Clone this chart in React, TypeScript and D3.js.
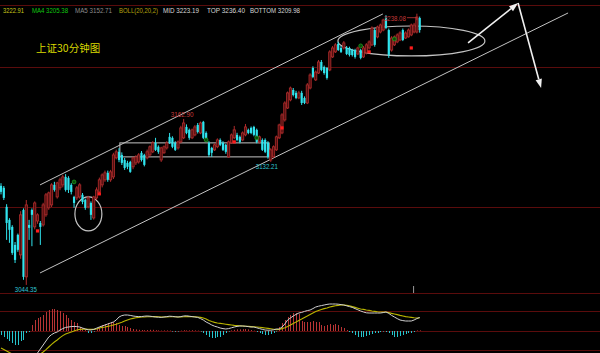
import React, { useEffect } from "react"
import { scaleLinear, line } from "d3"

// 30 min bars: open, high, low, close
const candles: [number, number, number, number][] = [
  [3115.1, 3117, 3109, 3110.8], [3113.7, 3115, 3105, 3106.5], [3100.1, 3102, 3076.5, 3088.6],
  [3090.8, 3092, 3074.4, 3083.7], [3085.8, 3087, 3065.8, 3067.2], [3072.9, 3075, 3060, 3062.2],
  [3080.1, 3081, 3068, 3069.4], [3065.8, 3097, 3063, 3094.4], [3097.9, 3099, 3048, 3050.1],
  [3050.1, 3105, 3044.35, 3101.5], [3087.2, 3090.8, 3076.5, 3085.1], [3097.9, 3099, 3072, 3094.4],
  [3085.8, 3104, 3084, 3102.9], [3090, 3095.5, 3088, 3094.4], [3088.6, 3090, 3072.9, 3085.8],
  [3087.2, 3103, 3086, 3101.5], [3094.4, 3110, 3093, 3108.7], [3099.4, 3111, 3098, 3110.1],
  [3101.5, 3117, 3100, 3115.8], [3115.8, 3118, 3111, 3112.2], [3107.2, 3118, 3106, 3117.2],
  [3113.7, 3121, 3112, 3119.4], [3115.8, 3123, 3114, 3121.5], [3121.5, 3123.5, 3111, 3112.2],
  [3120.8, 3122, 3110, 3112.2], [3115.8, 3117, 3109, 3110.8], [3107.2, 3108, 3099.4, 3102.9],
  [3106.5, 3115, 3105, 3113.7], [3107.2, 3117, 3106, 3115.8], [3108.7, 3110, 3102, 3103.6],
  [3105.1, 3106, 3098, 3099.4], [3100.1, 3108, 3099, 3106.5], [3102.9, 3104, 3090.8, 3094.4],
  [3092.2, 3108, 3091, 3107.2], [3106.5, 3114, 3105, 3112.2], [3110.8, 3121, 3109.5, 3119.4],
  [3115.8, 3124, 3114, 3122.9], [3119.4, 3126, 3118, 3124.4], [3124.4, 3126, 3118, 3119.4],
  [3119.4, 3126.5, 3118, 3125.1], [3121.5, 3138.7, 3120, 3137.2], [3135.1, 3141, 3134, 3139.4],
  [3139.4, 3142, 3132, 3133.6], [3137.2, 3139, 3130, 3131.5], [3133.6, 3135, 3126.5, 3127.9],
  [3131.5, 3133, 3127, 3128.7], [3132.2, 3133, 3124.4, 3125.1], [3128.7, 3136, 3127, 3135.1],
  [3131.5, 3137, 3130, 3135.8], [3132.2, 3138.5, 3131, 3137.2], [3138.7, 3140, 3132.5, 3133.6],
  [3137.2, 3138, 3129, 3130.1], [3135.1, 3141, 3134, 3139.4], [3137.2, 3144, 3136, 3143.0],
  [3139.4, 3147, 3138.5, 3145.8], [3145.8, 3149.4, 3140, 3140.8], [3143.0, 3144, 3138, 3139.4],
  [3133.6, 3143, 3132.2, 3142.2], [3138.7, 3144, 3138, 3143.0], [3142.2, 3147, 3141, 3145.8],
  [3150.1, 3152.9, 3145, 3145.8], [3149.4, 3150.5, 3142, 3143.0], [3145.8, 3147, 3140, 3140.8],
  [3142.2, 3147.5, 3141, 3146.5], [3146.5, 3158, 3145.5, 3156.5], [3149.4, 3162.9, 3148.5, 3160.0],
  [3157.2, 3159, 3152, 3152.9], [3155.1, 3156, 3148, 3149.4], [3149.4, 3156, 3148.5, 3155.1],
  [3151.5, 3158.5, 3150.5, 3157.2], [3158.6, 3160, 3152.5, 3153.6], [3152.9, 3161, 3152, 3160.0],
  [3160.8, 3161.5, 3148.5, 3149.4], [3152.9, 3154, 3147, 3147.9], [3145.8, 3147, 3135.8, 3137.2],
  [3142.2, 3143, 3135.8, 3138.7], [3140.8, 3145.5, 3140, 3144.4], [3143.0, 3149, 3142, 3147.9],
  [3147.9, 3149, 3143.5, 3144.4], [3145.8, 3147, 3140, 3140.8], [3144.4, 3145, 3138, 3139.4],
  [3135.8, 3147.5, 3135, 3146.5], [3145.8, 3152.5, 3145, 3151.5], [3149.4, 3157.9, 3148.5, 3155.1],
  [3151.5, 3153, 3147, 3147.9], [3150.1, 3151, 3145.5, 3146.5], [3147.9, 3154, 3147, 3152.9],
  [3151.5, 3159.3, 3150.5, 3157.2], [3155.1, 3156, 3152, 3152.9], [3156.5, 3157.5, 3152, 3152.9],
  [3157.2, 3158, 3150.5, 3151.5], [3155.1, 3156, 3145.5, 3146.5], [3146.5, 3151, 3145.5, 3150.1],
  [3147.9, 3149, 3140, 3140.8], [3147.9, 3149, 3138.5, 3139.4], [3145.8, 3147, 3134.5, 3135.8],
  [3133.6, 3142, 3132.21, 3140.8], [3135.8, 3144, 3135, 3143.0], [3140.8, 3151, 3140, 3150.1],
  [3149.4, 3159.5, 3148.5, 3158.6], [3152.9, 3167, 3152, 3165.8], [3162.2, 3175.5, 3161, 3174.3],
  [3170.7, 3182.5, 3170, 3181.5], [3176.5, 3186, 3175.5, 3185.0], [3183.6, 3185, 3179, 3180.0],
  [3181.5, 3183, 3177, 3177.9], [3177.9, 3183, 3177, 3181.5], [3181.5, 3183, 3172.9, 3174.3],
  [3177.9, 3179, 3173.5, 3174.3], [3174.3, 3188.5, 3173.5, 3187.2], [3185.0, 3195.5, 3184, 3194.3],
  [3199.3, 3200.5, 3192, 3192.9], [3190.8, 3197.5, 3190, 3196.4], [3195.7, 3205, 3195, 3203.6],
  [3203.6, 3205, 3197, 3197.9], [3200, 3201, 3194.5, 3195.7], [3199.3, 3200, 3191, 3192.2],
  [3197.9, 3212, 3197, 3210.8], [3207.2, 3215, 3206.5, 3213.6], [3210.8, 3217, 3210, 3215.8],
  [3216.5, 3218, 3211.5, 3212.1], [3213.6, 3215, 3210, 3210.8], [3213.6, 3218.5, 3212.5, 3217.2],
  [3213.6, 3215, 3208.5, 3209.3], [3213.6, 3214.5, 3207.5, 3208.6], [3212.1, 3213, 3207.5, 3208.6],
  [3212.1, 3213, 3206, 3207.2], [3209.3, 3214.5, 3208.5, 3213.6], [3212.1, 3213, 3205.5, 3206.5],
  [3207.2, 3215, 3206.5, 3213.6], [3210.1, 3217, 3209, 3215.8], [3213.6, 3219, 3212.5, 3217.9],
  [3215.8, 3229, 3215, 3227.9], [3226.4, 3227.5, 3214.5, 3215.8], [3221.5, 3229.5, 3220.5, 3228.6],
  [3225, 3231, 3224, 3230], [3226.4, 3234.5, 3225.5, 3233.6], [3235.0, 3237, 3227, 3227.9],
  [3226.4, 3227.5, 3206.5, 3208.6], [3212.1, 3222, 3211, 3220.7], [3215.8, 3222.5, 3215, 3221.5],
  [3217.9, 3224, 3217, 3222.9], [3219.3, 3225.5, 3218.5, 3224.3], [3226.4, 3227.5, 3218.5, 3219.3],
  [3220.7, 3225.5, 3220, 3224.3], [3221.5, 3227.5, 3221, 3226.4], [3222.9, 3231, 3222, 3230.0],
  [3225, 3231.5, 3224, 3230.0], [3225, 3238.08, 3224, 3235.7], [3235.0, 3236, 3224.5, 3226.4],
]

// MACD histogram, DIF, DEA per bar
const macdHist = [
  -2, -3, -4, -5, -6, -7, -7, -5, -4.5, -1, -0.5,
  3, 5.5, 6.5, 7, 8, 9.5, 10.5, 11, 11, 10.5, 10, 9, 8, 6.5, 5.5, 4.5, 4, 2, 1.5, 0.5,
  -1, -1, -0.3, 1, 2, 3, 3.5, 4, 4.5, 4.5, 4, 3, 2.5, 2.5, 2, 1.5, 1,
  0.8, 0.6, 0.5, 0.4, 0.5, 0.6, 0.6, 0.4, 0.3, 0.2, 0.3, 0.3, 0.2, -0.3, -0.4, -0.3, 0.2, 0.4, 0.3, 0.3, 0.4, 0.3, 0.2,
  -0.3, -1, -2, -3, -3.5, -3.5, -3, -3, -2, -1, -0.3,
  0.3, 0.6, 0.8, 0.8, 0.9, 1, 0.8, 0.5, 0.2,
  -0.5, -1, -1.5, -2, -2, -1.5, -1, -0.3,
  2, 4, 5.5, 7, 8, 9, 9, 8.5,
  5, 4.5, 4.5, 4.5, 5, 4.5, 4.5, 3, 2.5, 3, 3.5, 3, 3.5, 3, 2, 1.5, 0.5,
  -0.5, -1, -2, -3, -3, -3, -2.5, -2, -1.5, -1, -1, -0.5, -0.3,
  -0.5, -1, -2, -3, -3, -2.5, -2, -1.5, -1, -1, -0.5, 0.3, 0.3,
]
const macdDif = [
  -14, -15, -16, -16.5, -17, -17.5, -17.5, -17, -16.5, -16,
  -15, -14, -12.5, -11, -9, -7, -5, -3, -1.8, -1,
  -0.5, 0.5, 1.2, 1.8, 2, 2.2, 2.3, 2.2, 2, 1.5,
  1, 0.6, 0.5, 0.8, 1.4, 2, 2.5, 3, 3.5, 4,
  4.5, 5.5, 7, 7.7, 8, 8, 7.8, 7.5, 7.3, 7.2,
  7.2, 7.4, 7.5, 7.4, 7.2, 7, 6.9, 6.8, 7, 7.2, 7.4, 7.3, 7.1, 7, 7.2, 7.5, 7.6, 7.4, 7.2, 7, 6.8,
  6.2, 5.5, 4.5, 3.8, 3, 2.4, 2, 1.5, 1.2, 1, 1.2, 1.6, 2, 2.3, 2.5, 2.5, 2.4, 2.2, 2, 2,
  1.6, 1.2, 0.8, 0.5, 0.4, 0.4, 0.6, 1,
  1, 2, 3.5, 5.5, 6.5, 7.5, 8.3, 9, 9.3, 9.8, 10.2, 10.5, 11.2, 12, 12.4, 12.7, 13, 13.3, 13.5, 13.5,
  13.5, 13.4, 13.2, 13, 12.6, 12.2, 11.8, 11.2, 10.6, 10, 9.5, 9.1, 9, 9, 9, 9, 9, 9.2, 9.5, 8.8,
  7.8, 7, 6.2, 5.5, 5.2, 5, 5, 5, 5.5, 6.2, 6.8,
]
const macdDea = [
  -8.5, -9.2, -10, -10.8, -11.5, -12, -12.5, -13, -13.2, -13.4,
  -13.5, -13.3, -13, -12.5, -11.5, -10.5, -9.3, -8, -6.7, -5.5,
  -4.5, -3.3, -2.3, -1.5, -1, -0.5, 0, 0.5, 0.8, 0.9,
  1, 0.9, 0.8, 0.8, 1, 1.5, 1.8, 2, 2.3, 2.6,
  3, 3.4, 3.9, 4.4, 5, 5.5, 6, 6.3, 6.6, 6.8,
  7, 7, 7.1, 7.1, 7.2, 7.2, 7.1, 7, 7, 7, 7.1, 7.1, 7.1, 7, 7, 7.1, 7.2, 7.2, 7.2, 7.1, 7,
  6.8, 6.5, 6, 5.3, 4.7, 4.3, 4, 3.8, 3.6, 3.4, 3.2, 3, 2.8, 2.7, 2.6, 2.5, 2.4, 2.3, 2.2, 2.1,
  2, 1.9, 1.7, 1.5, 1.3, 1.1, 0.9, 0.7,
  0.8, 1.2, 1.6, 2.2, 3, 3.8, 4.5, 5.3, 6, 6.8, 7.5, 8.3, 9, 9.7, 10.3, 10.8, 11.2, 11.5, 12, 12.3,
  12.6, 12.8, 13, 13, 12.8, 12.6, 12.2, 11.8, 11.4, 11, 10.8, 10.5, 10.3, 10, 9.8, 9.6, 9.5, 9.5, 9.5, 9.2,
  8.8, 8.5, 8.2, 7.8, 7.5, 7.2, 7, 6.8, 6.6, 6.5, 6.5,
]

// signal dots: [bar index, price]
const redDots: [number, number][] = [[13, 3082.9], [35, 3109.4], [83, 3146.5], [100, 3156.5], [131, 3210.8], [146, 3213.6]]
const greenDots: [number, number][] = [[26, 3117.9], [73, 3147.9], [91, 3149.4], [128, 3215.1], [140, 3220]]

// hand drawn marks, in [bar index, price]
const upperChannel: [number, number][] = [[13.9, 3115.8], [135.9, 3237.9]]
const lowerChannel: [number, number][] = [[13.9, 3052.9], [201.8, 3238.6]]
const boxRange = { i: [42.3, 95.4], p: [3135.8, 3145.8] }
const smallRing = { i: [26.3, 35.9], p: [3082.9, 3107.2] }
const bigRing = { i: [119.9, 172.2], p: [3207.9, 3229.3] }
const upArrow: [number, number][] = [[166.2, 3217.2], [184, 3245.7]]
const downArrow: [number, number][] = [[184, 3245.7], [192.2, 3185]]

const priceGrid = [3100, 3200]
const macdGrid = [19, 10, 0, -9.5]

const headerTexts = ["3222.91", "MA4 3205.38", "MA5 3152.71", "BOLL(20,20,2)", "MID 3223.19", "TOP 3236.40", "BOTTOM 3209.98"]
const headerColors = ["#c8c818", "#10c810", "#8c8c8c", "#b4a40c", "#d8d8d8", "#d8d8d8", "#d8d8d8"]
const headerX = [3, 32, 75, 119, 163, 207, 250]
const headerW = [21, 36, 37, 39, 36, 38, 50]

const title = "上证30分钟图"
const highLabel = { i: 148, text: "3238.08" }
const midHighLabel = { i: 65, text: "3162.90" }
const midLowLabel = { i: 96, text: "3132.21" }
const lowLabel = { i: 9, text: "3044.35" }

const UP = "#b02c2c"
const UP_FILL = "#4e1010"
const DOWN = "#30e4ee"
const GRID = "#5a0c0c"
const DRAW = "#c4c4c4"
const LABEL_W = 22

const App = () => {
  useEffect(() => {
    document.body.style.margin = "0"
    document.body.style.background = "#000"
  }, [])

  const x = scaleLinear().domain([0, candles.length - 1]).range([1, 419.7])
  const y = scaleLinear().domain([3100, 3200]).range([207, 67])
  const my = scaleLinear().domain([-11, 19]).range([353, 293])
  const bodyW = 2.2

  const macdLine = line<number>().x((_, i) => x(i)).y((d) => my(d))

  const arrow = (pts: [number, number][]) => {
    const x1 = x(pts[0][0])
    const y1 = y(pts[0][1])
    const x2 = x(pts[1][0])
    const y2 = y(pts[1][1])
    const a = Math.atan2(y2 - y1, x2 - x1)
    const len = 9
    const half = 3.2
    const bx = x2 - len * Math.cos(a)
    const by = y2 - len * Math.sin(a)
    const head = [
      [x2, y2],
      [bx + half * Math.sin(a), by - half * Math.cos(a)],
      [bx - half * Math.sin(a), by + half * Math.cos(a)],
    ]
    return (
      <g>
        <line x1={x1} y1={y1} x2={bx} y2={by} stroke="#f0f0f0" strokeWidth={1.6} />
        <polygon points={head.map((p) => p.join(",")).join(" ")} fill="#f0f0f0" />
      </g>
    )
  }

  const ring = (r: { i: number[]; p: number[] }) => (
    <ellipse
      cx={(x(r.i[0]) + x(r.i[1])) / 2}
      cy={(y(r.p[0]) + y(r.p[1])) / 2}
      rx={(x(r.i[1]) - x(r.i[0])) / 2}
      ry={Math.abs(y(r.p[0]) - y(r.p[1])) / 2}
      fill="none"
      stroke={DRAW}
      strokeWidth={1.2}
    />
  )

  const hiX = x(highLabel.i)
  const hiY = y(candles[highLabel.i][1])

  return (
    <svg width={600} height={353} style={{ display: "block", background: "#000" }} fontFamily="'Liberation Sans', Arial, sans-serif">
      <rect width={600} height={353} fill="#000" />
      {/* borders and grid */}
      <line x1={0} x2={600} y1={5.5} y2={5.5} stroke={GRID} />
      {priceGrid.map((p) => (
        <line key={p} x1={0} x2={600} y1={Math.round(y(p)) + 0.5} y2={Math.round(y(p)) + 0.5} stroke={GRID} />
      ))}
      {macdGrid.map((v) => (
        <line key={v} x1={0} x2={600} y1={Math.round(my(v)) + 0.5} y2={Math.round(my(v)) + 0.5} stroke={GRID} />
      ))}

      {/* header */}
      {headerTexts.map((t, k) => (
        <text key={t} x={headerX[k]} y={12.5} fontSize={7.2} fill={headerColors[k]} textLength={headerW[k]} lengthAdjust="spacingAndGlyphs">
          {t}
        </text>
      ))}
      <text x={36} y={52} fontSize={10.5} fill="#dada00" fontFamily="'Noto Sans CJK SC', sans-serif">
        {title}
      </text>

      {/* channel + drawings */}
      {[upperChannel, lowerChannel].map((c, k) => (
        <line key={k} x1={x(c[0][0])} y1={y(c[0][1])} x2={x(c[1][0])} y2={y(c[1][1])} stroke={DRAW} strokeWidth={1} />
      ))}
      <rect
        x={x(boxRange.i[0])}
        y={y(boxRange.p[1])}
        width={x(boxRange.i[1]) - x(boxRange.i[0])}
        height={y(boxRange.p[0]) - y(boxRange.p[1])}
        fill="none"
        stroke={DRAW}
        strokeWidth={1}
      />
      {ring(smallRing)}
      {ring(bigRing)}
      {arrow(upArrow)}
      {arrow(downArrow)}

      {/* candles */}
      {candles.map(([o, h, l, c], i) => {
        const cx = x(i)
        const up = c >= o
        const top = y(Math.max(o, c))
        const bh = Math.max(1, y(Math.min(o, c)) - top)
        const col = up ? UP : DOWN
        return (
          <g key={i}>
            <line x1={cx} x2={cx} y1={y(Math.max(h, o, c))} y2={y(Math.min(l, o, c))} stroke={col} strokeWidth={1} />
            <rect
              x={cx - bodyW / 2}
              y={top}
              width={bodyW}
              height={bh}
              fill={up ? UP_FILL : DOWN}
              stroke={up ? UP : "none"}
              strokeWidth={0.8}
            />
          </g>
        )
      })}
      {redDots.map(([i, p], k) => (
        <rect key={k} x={x(i) - 1.6} y={y(p) - 1.6} width={3.2} height={3.2} fill="#ff1c1c" />
      ))}
      {greenDots.map(([i, p], k) => (
        <circle key={k} cx={x(i)} cy={y(p)} r={1.9} fill="#0a4a0a" stroke="#1f9a1f" strokeWidth={0.8} />
      ))}

      {/* price labels */}
      <text x={x(midHighLabel.i) - 13} y={y(candles[midHighLabel.i][1]) - 1.5} fontSize={7.2} fill="#c83a3a" textLength={LABEL_W + 1} lengthAdjust="spacingAndGlyphs">
        {midHighLabel.text}
      </text>
      <text x={x(midLowLabel.i) - 15} y={y(candles[midLowLabel.i][2]) + 7.5} fontSize={7.2} fill="#30c8d8" textLength={LABEL_W} lengthAdjust="spacingAndGlyphs">
        {midLowLabel.text}
      </text>
      <text x={x(lowLabel.i) - 11.5} y={y(candles[lowLabel.i][2]) + 7} fontSize={7.2} fill="#30c8d8" textLength={LABEL_W} lengthAdjust="spacingAndGlyphs">
        {lowLabel.text}
      </text>
      <text x={hiX - 33} y={hiY + 7} fontSize={7.2} fill="#c83a3a" textLength={LABEL_W} lengthAdjust="spacingAndGlyphs">
        {highLabel.text}
      </text>
      <line x1={hiX - 10} x2={hiX} y1={hiY + 4} y2={hiY + 4} stroke="#c83a3a" strokeWidth={0.8} />
      <line x1={hiX} x2={hiX} y1={hiY + 4} y2={hiY + 6.5} stroke="#c83a3a" strokeWidth={0.8} />

      {/* MACD */}
      {macdHist.map((v, i) => (
        <line
          key={i}
          x1={Math.round(x(i)) + 0.5}
          x2={Math.round(x(i)) + 0.5}
          y1={my(0)}
          y2={my(v)}
          stroke={v >= 0 ? "#b83434" : "#26c4cc"}
          strokeWidth={1}
        />
      ))}
      <path d={macdLine(macdDea) || ""} fill="none" stroke="#b8b400" strokeWidth={1.1} />
      <path d={macdLine(macdDif) || ""} fill="none" stroke="#cfcfcf" strokeWidth={1} />
      <line x1={x(147) - 0.5} x2={x(147) - 0.5} y1={286} y2={293} stroke="#9a9a9a" />
    </svg>
  )
}

export default App
